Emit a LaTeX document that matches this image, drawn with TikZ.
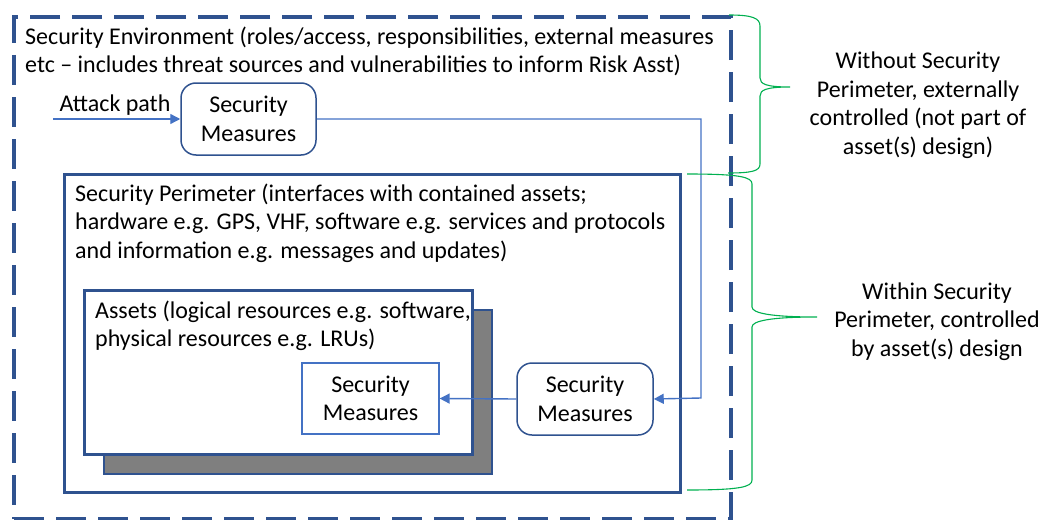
\documentclass[tikz,border=0pt]{standalone}
\usepackage{fontspec}
\setmainfont{Carlito}
\usetikzlibrary{arrows.meta}
\definecolor{dkblue}{HTML}{2F528F}
\definecolor{ltblue}{HTML}{4472C4}
\definecolor{brgreen}{HTML}{00B050}
\definecolor{shgray}{HTML}{7F7F7F}
\begin{document}
\begin{tikzpicture}[x=1pt,y=-1pt,
  txt/.style={font=\fontsize{24}{28.5}\selectfont, inner sep=0pt, text=black},
  lbl/.style={txt, align=left, anchor=west},
  measure/.style={txt, draw=dkblue, line width=1.5pt, fill=white, align=center, minimum width=135pt, minimum height=72pt},
  rmeasure/.style={measure, rounded corners=15pt},
  flow/.style={draw=ltblue, line width=1.4pt, -{Triangle[length=10pt,width=10pt]}},
  brace/.style={draw=brgreen, line width=1.1pt},
  box/.style={draw=dkblue, line width=3pt, anchor=north west, inner sep=0pt}
]
\useasboundingbox (0,0) rectangle (1059,519);
% security environment
\node[draw=dkblue, line width=4pt, dash pattern=on 30pt off 12pt, anchor=north west, inner sep=0pt, minimum width=717pt, minimum height=502pt] (env) at (12,15) {};
\node[lbl] (envtxt) at (25,51.5) {Security Environment (roles/access, responsibilities, external measures\\etc -- includes threat sources and vulnerabilities to inform Risk Asst)};
% perimeter
\node[box, minimum width=616pt, minimum height=318pt] (perim) at (63,173) {};
\node[lbl] (perimtxt) at (75,223) {Security Perimeter (interfaces with contained assets;\\hardware e.g. GPS, VHF, software e.g. services and protocols\\and information e.g. messages and updates)};
% assets with shadow
\node[draw=dkblue, line width=1.5pt, fill=shgray, anchor=north west, inner sep=0pt, minimum width=388pt, minimum height=164pt] (shadow) at (103,309) {};
\node[box, fill=white, minimum width=388pt, minimum height=164pt] (assets) at (83,289) {};
\node[lbl] (assetstxt) at (95,326) {Assets (logical resources e.g. software,\\physical resources e.g. LRUs)};
% measures
\node[rmeasure] (sm1) at (248.5,119) {Security\\Measures};
\node[rmeasure, minimum width=136pt] (sm2) at (585,399) {Security\\Measures};
\node[measure, draw=ltblue, line width=1.3pt, minimum width=137pt, minimum height=71pt] (sm3) at (370.5,398.5) {Security\\Measures};
% attack path
\coordinate (start) at (53,119);
\coordinate (bend) at (701,398);
\draw[flow] (start) -- (sm1.west);
\node[txt] (attack) at (115,105) {Attack path};
\draw[flow] (sm1.east) -| (bend) -- (sm2.east);
\draw[flow] (sm2.west) -- (sm3.east);
% braces
\coordinate (b1top) at (729,15);
\coordinate (b1tip) at (790,87);
\coordinate (b1bot) at (728,173);
\draw[brace] (b1top) .. controls (752,15) and (760,18) .. (760,26) -- (760,78)
  .. controls (760,84) and (766,87) .. (b1tip)
  .. controls (766,87) and (760,90) .. (760,96) -- (760,164)
  .. controls (760,171) and (752,173) .. (b1bot);
\coordinate (b2top) at (687,174);
\coordinate (b2tip) at (817,317);
\coordinate (b2bot) at (687,490);
\draw[brace] (b2top) .. controls (740,174) and (752,177) .. (752,184) -- (752,307)
  .. controls (752,313) and (770,317) .. (b2tip)
  .. controls (770,317) and (752,321) .. (752,327) -- (752,480)
  .. controls (752,487) and (740,490) .. (b2bot);
\node[txt, align=center] (without) at (918,105) {Without Security\\Perimeter, externally\\controlled (not part of\\asset(s) design)};
\node[txt, align=center] (within) at (937,321.5) {Within Security\\Perimeter, controlled\\by asset(s) design};
\end{tikzpicture}
\end{document}
